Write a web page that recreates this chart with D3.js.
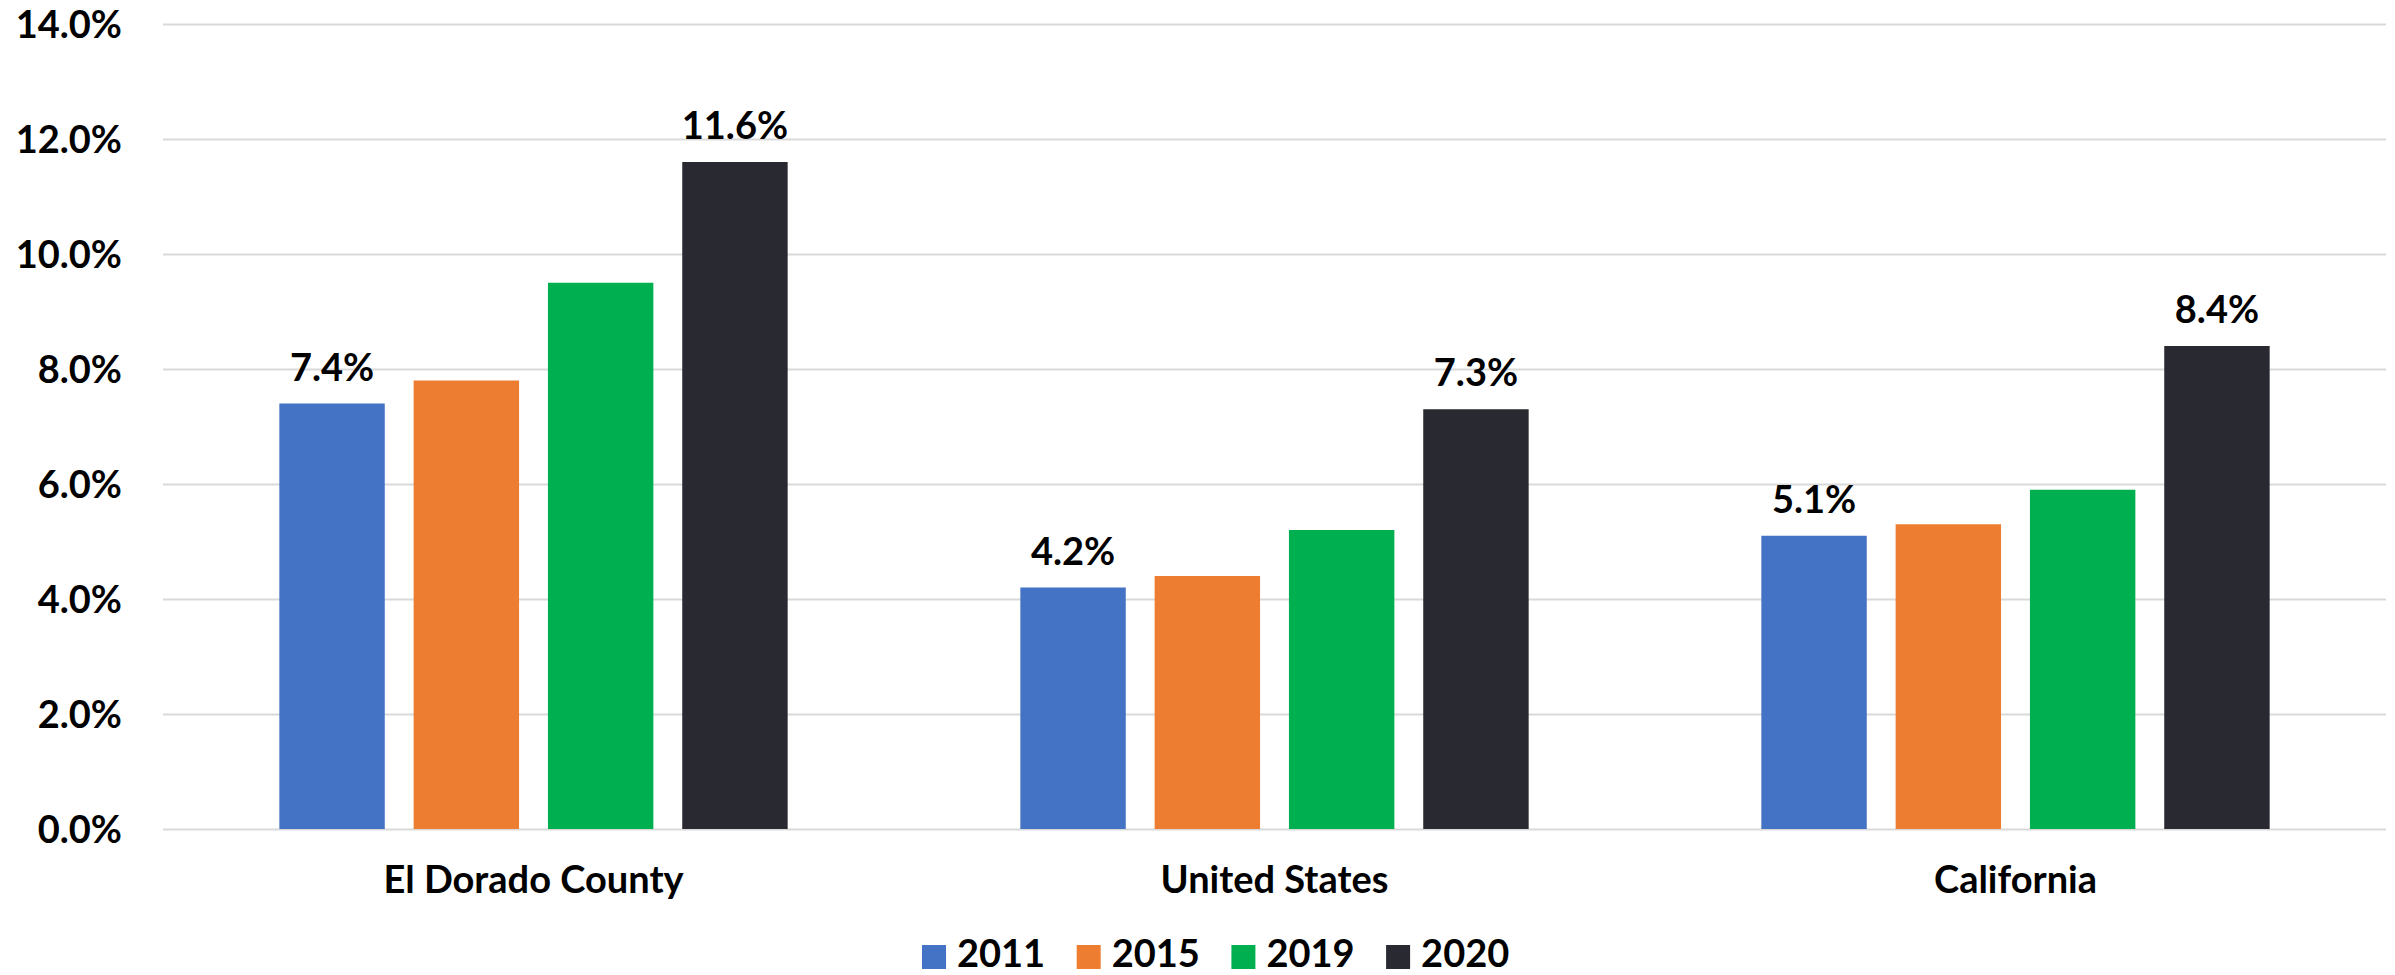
<!DOCTYPE html>
<html>
<head>
<meta charset="utf-8">
<script src="https://cdn.jsdelivr.net/npm/d3@7"></script>
<style>
  html, body { margin: 0; padding: 0; background: #fff; }
  svg { display: block; }
  text { font-family: Lato, "Open Sans", sans-serif; font-weight: 700; fill: #000; }
</style>
</head>
<body>
<svg id="chart" width="2395" height="975"></svg>
<script>
// Regions compared in the chart
const categories = ["El Dorado County", "United States", "California"];
// Years, one bar per year in each region
const years = ["2011", "2015", "2019", "2020"];
// Rates (%) per year, in region order
const values2011 = [7.4, 4.2, 5.1];
const values2015 = [7.8, 4.4, 5.3];
const values2019 = [9.5, 5.2, 5.9];
const values2020 = [11.6, 7.3, 8.4];
// Series that carry a value label above each bar
const labelledYears = ["2011", "2020"];
// Y axis ticks
const yTicks = [0, 2, 4, 6, 8, 10, 12, 14];
const colors = ["#4472C4", "#ED7D31", "#00B050", "#292932"];

const seriesValues = [values2011, values2015, values2019, values2020];

const svg = d3.select("#chart");
const plot = { left: 163, right: 2386, top: 24, bottom: 829 };
const fontSize = 38;

const y = d3.scaleLinear().domain([0, 14]).range([plot.bottom, plot.top]);
const x0 = d3.scaleBand().domain(categories)
  .range([plot.left, plot.right])
  .paddingInner(0.314).paddingOuter(0.157);
const x1 = d3.scaleBand().domain(years)
  .range([0, x0.bandwidth()])
  .paddingInner(0.215).paddingOuter(0);
const color = d3.scaleOrdinal().domain(years).range(colors);
const fmt = v => d3.format(".1f")(v) + "%";

// Gridlines and y tick labels
const yAxis = d3.axisLeft(y).tickValues(yTicks)
  .tickSize(-(plot.right - plot.left)).tickFormat(d => fmt(d)).tickPadding(41);
const gy = svg.append("g").attr("transform", `translate(${plot.left},0)`).call(yAxis);
gy.select(".domain").remove();
gy.selectAll(".tick line").attr("stroke", "#d9d9d9").attr("stroke-width", 2);
gy.selectAll(".tick text")
  .attr("font-size", fontSize)
  .attr("font-family", "Lato, sans-serif")
  .attr("font-weight", 700)
  .attr("fill", "#000")
  .attr("dy", "0.36em");

// Bars
const rows = categories.map((c, i) => ({
  category: c,
  bars: years.map((yr, j) => ({ year: yr, value: seriesValues[j][i] }))
}));

const groups = svg.append("g").selectAll("g").data(rows).join("g")
  .attr("transform", d => `translate(${x0(d.category)},0)`);

groups.selectAll("rect").data(d => d.bars).join("rect")
  .attr("x", d => x1(d.year))
  .attr("y", d => y(d.value))
  .attr("width", x1.bandwidth())
  .attr("height", d => y(0) - y(d.value))
  .attr("fill", d => color(d.year));

groups.selectAll("text.val").data(d => d.bars.filter(b => labelledYears.includes(b.year)))
  .join("text").attr("class", "val")
  .attr("x", d => x1(d.year) + x1.bandwidth() / 2)
  .attr("y", d => y(d.value) - 23)
  .attr("text-anchor", "middle")
  .attr("font-size", fontSize)
  .text(d => fmt(d.value));

// Category labels
const xAxis = d3.axisBottom(x0).tickSize(0).tickPadding(0);
const gx = svg.append("g").attr("transform", `translate(0,${plot.bottom})`).call(xAxis);
gx.select(".domain").remove();
gx.selectAll(".tick text")
  .attr("font-size", fontSize)
  .attr("font-family", "Lato, sans-serif")
  .attr("font-weight", 700)
  .attr("fill", "#000")
  .attr("y", 64)
  .attr("dy", 0);

// Legend
const legendX = 922, legendStep = 154.7, box = 24;
const legend = svg.append("g").attr("transform", `translate(${legendX},945)`);
const li = legend.selectAll("g").data(years).join("g")
  .attr("transform", (d, i) => `translate(${i * legendStep},0)`);
li.append("rect").attr("width", box).attr("height", box).attr("fill", d => color(d));
li.append("text").attr("x", 35).attr("y", 22).attr("font-size", fontSize).text(d => d);
</script>
</body>
</html>
